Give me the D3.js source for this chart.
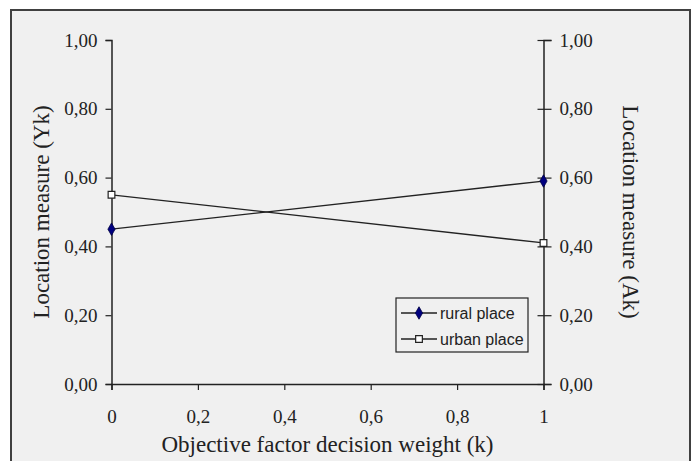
<!DOCTYPE html>
<html>
<head>
<meta charset="utf-8">
<script src="https://cdn.jsdelivr.net/npm/d3@7"></script>
<style>
  body { margin: 0; background: #fff; }
  svg { display: block; }
</style>
</head>
<body>
<div id="chart"></div>
<script>
// chart values
const weights = [0, 1];
const xTicks = [0, 0.2, 0.4, 0.6, 0.8, 1];
const yTicks = [0, 0.2, 0.4, 0.6, 0.8, 1];
const rural = [0.45, 0.59];
const urban = [0.55, 0.41];
const seriesNames = ["rural place", "urban place"];

const width = 697, height = 461;
const plotLeft = 111.5, plotRight = 543.5, plotTop = 40, plotBottom = 384;

const svg = d3.select("#chart").append("svg")
    .attr("width", width)
    .attr("height", height);

// outer frame
svg.append("rect")
    .attr("x", 11).attr("y", 10)
    .attr("width", 679).attr("height", 480)
    .attr("fill", "#f0f0f0")
    .attr("stroke", "#404040")
    .attr("stroke-width", 2);

const x = d3.scaleLinear().domain([0, 1]).range([plotLeft, plotRight]);
const y = d3.scaleLinear().domain([0, 1]).range([plotBottom, plotTop]);

const fmt = v => d3.format(".2f")(v).replace(".", ",");
const fmtX = v => String(v).replace(".", ",");

// left axis
const yLeft = svg.append("g")
    .attr("transform", `translate(${plotLeft},0)`)
    .call(d3.axisLeft(y).tickValues(yTicks).tickFormat(fmt).tickSize(6).tickPadding(8));

// right axis (ticks cross the line)
const yRight = svg.append("g")
    .attr("transform", `translate(${plotRight},0)`)
    .call(d3.axisRight(y).tickValues(yTicks).tickFormat(fmt).tickSize(8).tickPadding(8));
yRight.selectAll(".tick line").attr("x1", -6).attr("x2", 8);

// bottom axis
const xAxis = svg.append("g")
    .attr("transform", `translate(0,${plotBottom})`)
    .call(d3.axisBottom(x).tickValues(xTicks).tickFormat(fmtX).tickSize(6).tickPadding(20));

[yLeft, yRight, xAxis].forEach(g => {
    g.select(".domain").attr("stroke", "#222").attr("stroke-width", 1.5);
    g.selectAll(".tick line").attr("stroke", "#222").attr("stroke-width", 1.2);
    g.selectAll(".tick text")
        .attr("fill", "#222")
        .style("font-family", "'Liberation Serif', 'Times New Roman', serif")
        .style("font-size", "19px");
});

// axis titles
const titleStyle = sel => sel
    .attr("fill", "#222")
    .style("font-family", "'Liberation Serif', 'Times New Roman', serif")
    .style("font-size", "23px")
    .attr("text-anchor", "middle");

svg.append("text")
    .attr("x", (plotLeft + plotRight) / 2).attr("y", 452)
    .text("Objective factor decision weight (k)")
    .call(titleStyle);

svg.append("text")
    .attr("transform", `translate(49,${(plotTop + plotBottom) / 2}) rotate(-90)`)
    .text("Location measure (Yk)")
    .call(titleStyle);

svg.append("text")
    .attr("transform", `translate(623,${(plotTop + plotBottom) / 2}) rotate(90)`)
    .text("Location measure (Ak)")
    .call(titleStyle);

// series
const line = d3.line()
    .x((d, i) => x(weights[i]))
    .y(d => y(d));

svg.append("path").datum(rural)
    .attr("d", line).attr("fill", "none")
    .attr("stroke", "#222").attr("stroke-width", 1.3);
svg.append("path").datum(urban)
    .attr("d", line).attr("fill", "none")
    .attr("stroke", "#222").attr("stroke-width", 1.3);

const diamond = d3.symbol().type(d3.symbolDiamond).size(45);
const square = d3.symbol().type(d3.symbolSquare).size(45);

svg.selectAll(".rural-pt").data(rural).enter().append("path")
    .attr("class", "rural-pt")
    .attr("transform", (d, i) => `translate(${x(weights[i])},${y(d)})`)
    .attr("d", diamond())
    .attr("fill", "#000080").attr("stroke", "#000040").attr("stroke-width", 0.8);

svg.selectAll(".urban-pt").data(urban).enter().append("path")
    .attr("class", "urban-pt")
    .attr("transform", (d, i) => `translate(${x(weights[i])},${y(d)})`)
    .attr("d", square())
    .attr("fill", "#fff").attr("stroke", "#222").attr("stroke-width", 1.2);

// legend
const legend = svg.append("g");
legend.append("rect")
    .attr("x", 396).attr("y", 298)
    .attr("width", 132).attr("height", 54)
    .attr("fill", "#f0f0f0")
    .attr("stroke", "#222").attr("stroke-width", 1.2);

seriesNames.forEach((name, i) => {
    const ly = 313 + i * 26;
    legend.append("line")
        .attr("x1", 401).attr("x2", 437)
        .attr("y1", ly).attr("y2", ly)
        .attr("stroke", "#222").attr("stroke-width", 1.3);
    legend.append("path")
        .attr("transform", `translate(419,${ly})`)
        .attr("d", i === 0 ? diamond() : square())
        .attr("fill", i === 0 ? "#000080" : "#fff")
        .attr("stroke", i === 0 ? "#000040" : "#222")
        .attr("stroke-width", i === 0 ? 0.8 : 1.2);
    legend.append("text")
        .attr("x", 440).attr("y", ly)
        .attr("dy", "0.35em")
        .attr("fill", "#222")
        .style("font-family", "'Liberation Sans', Arial, sans-serif")
        .style("font-size", "16px")
        .text(name);
});
</script>
</body>
</html>
